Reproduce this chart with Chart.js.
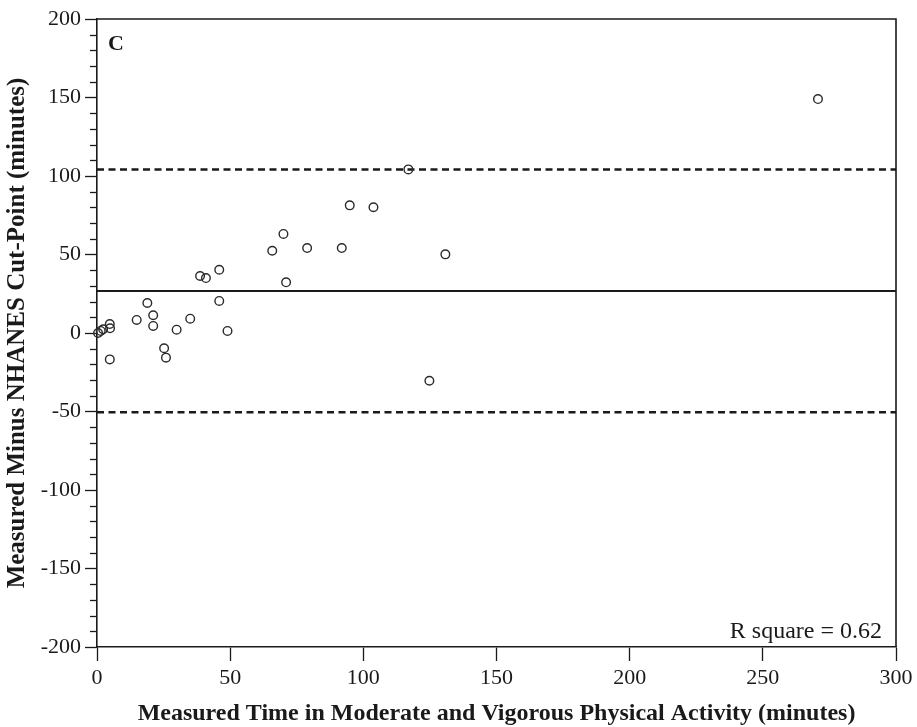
<!DOCTYPE html>
<html>
<head>
<meta charset="utf-8">
<script src="https://cdn.jsdelivr.net/npm/chart.js@4/dist/chart.umd.min.js"></script>
<style>
  html, body { margin: 0; padding: 0; background: #fff; }
  #wrap { width: 917px; height: 727px; }
</style>
</head>
<body>
<div id="wrap"><canvas id="bland" width="917" height="727"></canvas></div>
<script>
/* ---------------- DATA ---------------- */
// measured MVPA minutes (x) vs measured minus NHANES cut-point (y)
const measuredMin = [0.4, 1.4, 2.3, 4.8, 4.9, 4.8, 14.9, 18.9, 21.1, 21.1,
                     25.2, 25.9, 29.9, 35.0, 38.7, 40.9, 45.9, 45.9, 49.0, 65.8,
                     70.0, 71.0, 78.9, 91.9, 94.9, 103.8, 116.9, 124.8, 130.8, 270.7];
const diffMin     = [0.0, 1.3, 2.4, 5.7, 3.0, -16.8, 8.3, 19.1, 11.3, 4.5,
                     -9.7, -15.7, 2.1, 9.1, 36.3, 35.0, 40.3, 20.4, 1.3, 52.4,
                     63.1, 32.3, 54.1, 54.1, 81.3, 80.1, 104.2, -30.4, 50.1, 149.0];
const meanDiff  = 26.8;
const upperLoA  = 104.1;
const lowerLoA  = -50.5;
const xRange = [0, 300];
const yRange = [-200, 200];
const rSquareText = "R square = 0.62";
const panelLetter = "C";
/* -------------------------------------- */

const SERIF = "'Liberation Serif', 'DejaVu Serif', serif";
const INK = '#1a1a1a';

const points = measuredMin.map((x, i) => ({ x, y: diffMin[i] }));
const hLine = v => [{ x: xRange[0], y: v }, { x: xRange[1], y: v }];

/* box, minor y ticks, annotations */
const extras = {
    id: 'extras',
    afterDraw(chart) {
        const { ctx, chartArea: a, scales: { y } } = chart;
        ctx.save();
        ctx.strokeStyle = INK;
        ctx.lineWidth = 1.6;
        ctx.beginPath();
        ctx.moveTo(a.left, a.top);
        ctx.lineTo(a.right, a.top);
        ctx.lineTo(a.right, a.bottom);
        ctx.stroke();

        // minor ticks every 10 on y
        ctx.lineWidth = 1.3;
        for (let v = yRange[0]; v <= yRange[1]; v += 10) {
            if (v % 50 === 0) continue;
            const py = Math.round(y.getPixelForValue(v)) + 0.5;
            ctx.beginPath();
            ctx.moveTo(a.left - 7, py);
            ctx.lineTo(a.left, py);
            ctx.stroke();
        }

        ctx.fillStyle = INK;
        ctx.font = "bold 22px " + SERIF;
        ctx.textBaseline = 'middle';
        ctx.textAlign = 'left';
        ctx.fillText(panelLetter, a.left + 11, a.top + 25);

        ctx.font = "24px " + SERIF;
        ctx.textAlign = 'right';
        ctx.fillText(rSquareText, a.right - 14, a.bottom - 15);
        ctx.restore();
    }
};

new Chart(document.getElementById('bland'), {
    type: 'scatter',
    data: {
        datasets: [
            {
                data: points,
                showLine: false,
                pointRadius: 4.3,
                pointBorderWidth: 1.4,
                pointBorderColor: '#2a2a2a',
                pointBackgroundColor: 'rgba(255,255,255,0)',
                clip: false,
                order: 0
            },
            {
                type: 'line', data: hLine(meanDiff),
                borderColor: INK, borderWidth: 2, pointRadius: 0, order: 1
            },
            {
                type: 'line', data: hLine(upperLoA),
                borderColor: INK, borderWidth: 2.5, borderDash: [7, 4.5], pointRadius: 0, order: 1
            },
            {
                type: 'line', data: hLine(lowerLoA),
                borderColor: INK, borderWidth: 2.5, borderDash: [7, 4.5], pointRadius: 0, order: 1
            }
        ]
    },
    options: {
        responsive: false,
        animation: false,
        layout: { padding: { left: 0, top: 19, right: 21, bottom: 0 } },
        plugins: { legend: { display: false }, tooltip: { enabled: false } },
        scales: {
            x: {
                type: 'linear', min: xRange[0], max: xRange[1],
                afterFit: s => { s.height = 80; },
                ticks: { stepSize: 50, color: INK, padding: 4, font: { family: SERIF, size: 22 } },
                grid: { drawOnChartArea: false, tickLength: 14, tickColor: INK, tickWidth: 1.3 },
                border: { color: INK, width: 1.6 },
                title: {
                    display: true,
                    text: 'Measured Time in Moderate and Vigorous Physical Activity (minutes)',
                    color: INK, padding: { top: 0, bottom: 1 },
                    font: { family: SERIF, size: 24, weight: 'bold', lineHeight: 1 }
                }
            },
            y: {
                type: 'linear', min: yRange[0], max: yRange[1],
                afterFit: s => { s.width = 97; },
                ticks: { stepSize: 50, color: INK, padding: 4, font: { family: SERIF, size: 22 } },
                grid: { drawOnChartArea: false, tickLength: 12, tickColor: INK, tickWidth: 1.3 },
                border: { color: INK, width: 1.6 },
                title: {
                    display: true,
                    text: 'Measured Minus NHANES Cut-Point (minutes)',
                    color: INK, padding: { top: 5, bottom: 0 },
                    font: { family: SERIF, size: 25, weight: 'bold', lineHeight: 1 }
                }
            }
        }
    },
    plugins: [extras]
});
</script>
</body>
</html>
